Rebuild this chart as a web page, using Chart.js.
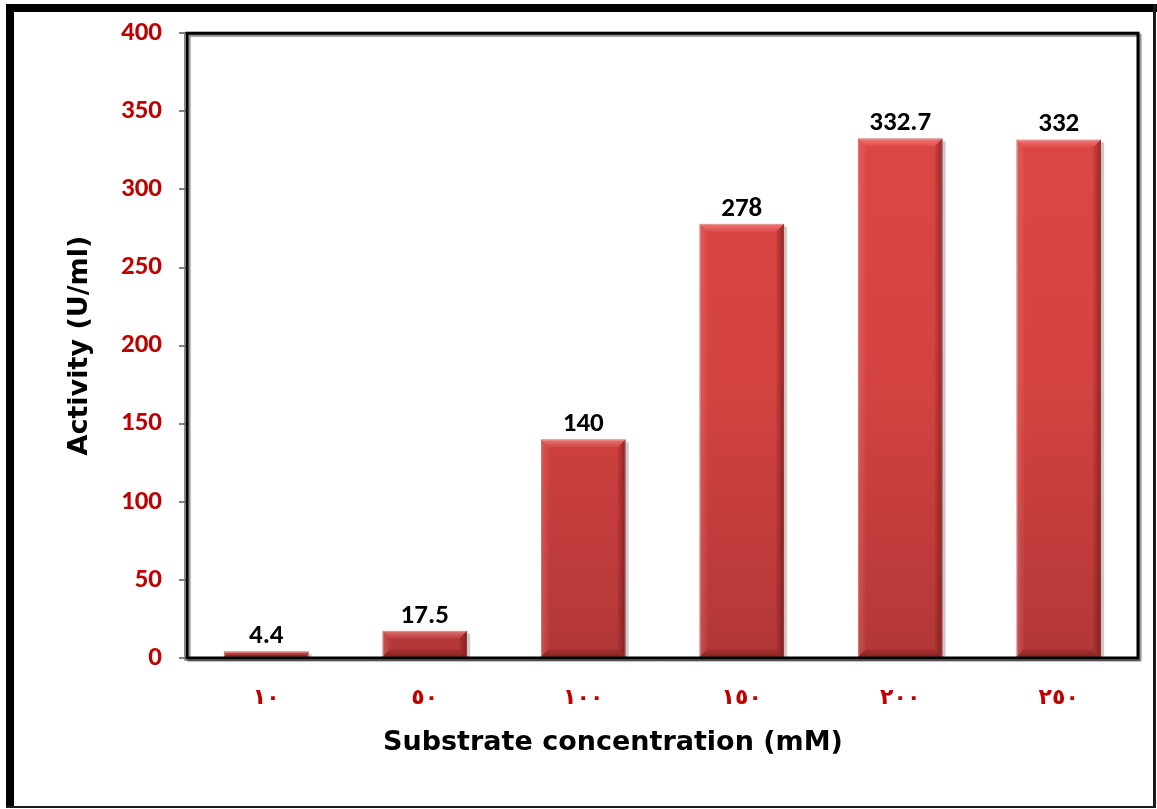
<!DOCTYPE html>
<html>
<head>
<meta charset="utf-8">
<script src="https://cdn.jsdelivr.net/npm/chart.js@4.4.1/dist/chart.umd.min.js"></script>
<style>
  html, body { margin: 0; padding: 0; background: #ffffff; }
  #wrap { width: 1157px; height: 809px; }
</style>
</head>
<body>
<div id="wrap"><canvas id="chart" width="1157" height="809"></canvas></div>
<script>
// Substrate concentrations (mM), written with Arabic-Indic digits
const categories = ['١٠', '٥٠', '١٠٠', '١٥٠', '٢٠٠', '٢٥٠'];
// Enzyme activity (U/ml) at each concentration
const activity = [4.4, 17.5, 140, 278, 332.7, 332];
// Y axis tick values
const yTickValues = [0, 50, 100, 150, 200, 250, 300, 350, 400];

const X_TITLE = 'Substrate concentration (mM)';
const Y_TITLE = 'Activity (U/ml)';

const NUM_FONT = "Carlito, Lato, sans-serif";
const TITLE_FONT = "'DejaVu Sans', Verdana, sans-serif";
const ARABIC_FONT = "'DejaVu Sans', sans-serif";

// Outer frame: heavy black on top/left, thin on right/bottom
const framePlugin = {
  id: 'frame',
  beforeDraw(chart) {
    const ctx = chart.ctx;
    const w = chart.width, h = chart.height;
    ctx.save();
    ctx.fillStyle = '#ffffff';
    ctx.fillRect(0, 0, w, h);
    ctx.fillStyle = '#000000';
    ctx.fillRect(6, 4, w - 6, 8);     // top
    ctx.fillRect(6, 4, 8, h - 6);     // left
    ctx.fillStyle = '#1a1a1a';
    ctx.fillRect(w - 4, 4, 3, h - 5); // right
    ctx.fillRect(6, h - 3, w - 7, 2); // bottom
    ctx.restore();
  },
  afterDraw(chart) {
    // x axis title, set a little left of the plot centre
    const ctx = chart.ctx;
    ctx.save();
    ctx.fillStyle = '#000000';
    ctx.font = 'bold 27px ' + TITLE_FONT;
    ctx.textAlign = 'center';
    ctx.textBaseline = 'middle';
    ctx.fillText(X_TITLE, 613, 743);
    ctx.restore();
  }
};

// Bevel shading on each bar, plot border with drop shadow, value labels
const decorPlugin = {
  id: 'decor',
  beforeDatasetsDraw(chart) {
    const ctx = chart.ctx;
    const meta = chart.getDatasetMeta(0);
    ctx.save();
    meta.data.forEach((bar) => {
      const p = bar.getProps(['x', 'y', 'base', 'width'], true);
      const r = p.x + p.width / 2;
      const h = p.base - p.y;
      ctx.fillStyle = 'rgba(60,0,0,0.22)';
      ctx.fillRect(r, p.y + 3, 3, h - 3);
    });
    ctx.restore();
  },
  afterDatasetsDraw(chart) {
    const ctx = chart.ctx;
    const meta = chart.getDatasetMeta(0);
    const values = chart.data.datasets[0].data;
    ctx.save();
    meta.data.forEach((bar) => {
      const p = bar.getProps(['x', 'y', 'base', 'width'], true);
      const l = p.x - p.width / 2, r = p.x + p.width / 2;
      const t = p.y, btm = p.base;
      const b = Math.min(8, (btm - t) / 2, p.width / 2);

      // top facet (light)
      let g = ctx.createLinearGradient(0, t, 0, t + b);
      g.addColorStop(0, 'rgba(255,175,175,0.55)');
      g.addColorStop(1, 'rgba(255,130,130,0.12)');
      ctx.fillStyle = g;
      ctx.beginPath();
      ctx.moveTo(l, t); ctx.lineTo(r, t); ctx.lineTo(r - b, t + b); ctx.lineTo(l + b, t + b);
      ctx.closePath(); ctx.fill();

      // left facet (slightly light)
      g = ctx.createLinearGradient(l, 0, l + b, 0);
      g.addColorStop(0, 'rgba(255,150,150,0.28)');
      g.addColorStop(1, 'rgba(255,150,150,0.05)');
      ctx.fillStyle = g;
      ctx.beginPath();
      ctx.moveTo(l, t); ctx.lineTo(l + b, t + b); ctx.lineTo(l + b, btm - b); ctx.lineTo(l, btm);
      ctx.closePath(); ctx.fill();

      // right facet (dark)
      g = ctx.createLinearGradient(r - b, 0, r, 0);
      g.addColorStop(0, 'rgba(70,0,0,0.08)');
      g.addColorStop(1, 'rgba(70,0,0,0.45)');
      ctx.fillStyle = g;
      ctx.beginPath();
      ctx.moveTo(r, t); ctx.lineTo(r, btm); ctx.lineTo(r - b, btm - b); ctx.lineTo(r - b, t + b);
      ctx.closePath(); ctx.fill();

      // bottom facet (dark)
      g = ctx.createLinearGradient(0, btm - b, 0, btm);
      g.addColorStop(0, 'rgba(70,0,0,0.08)');
      g.addColorStop(1, 'rgba(70,0,0,0.4)');
      ctx.fillStyle = g;
      ctx.beginPath();
      ctx.moveTo(l, btm); ctx.lineTo(r, btm); ctx.lineTo(r - b, btm - b); ctx.lineTo(l + b, btm - b);
      ctx.closePath(); ctx.fill();
    });

    // plot area border with a soft grey drop shadow
    const a = chart.chartArea;
    ctx.strokeStyle = '#8a8a8a';
    ctx.lineWidth = 1;
    ctx.beginPath();
    ctx.moveTo(a.left - 2.5, a.top);
    ctx.lineTo(a.left - 2.5, a.bottom + 2.5);
    ctx.lineTo(a.right + 2, a.bottom + 2.5);
    ctx.stroke();
    ctx.save();
    ctx.shadowColor = 'rgba(0,0,0,0.45)';
    ctx.shadowOffsetX = 2;
    ctx.shadowOffsetY = 2;
    ctx.shadowBlur = 1;
    ctx.strokeStyle = '#000000';
    ctx.lineWidth = 3;
    ctx.strokeRect(a.left, a.top, a.right - a.left, a.bottom - a.top);
    ctx.restore();

    // value labels above each bar
    ctx.fillStyle = '#000000';
    ctx.font = 'bold 27px ' + NUM_FONT;
    ctx.textAlign = 'center';
    ctx.textBaseline = 'alphabetic';
    meta.data.forEach((bar, i) => {
      const p = bar.getProps(['x', 'y'], true);
      ctx.fillText(String(values[i]), p.x, p.y - 8);
    });
    ctx.restore();
  }
};

const ctx = document.getElementById('chart').getContext('2d');

function barFill(context) {
  const area = context.chart.chartArea;
  if (!area) return '#d24040';
  const g = context.chart.ctx.createLinearGradient(0, area.top, 0, area.bottom);
  g.addColorStop(0, '#de4846');
  g.addColorStop(0.55, '#d44341');
  g.addColorStop(1, '#b23737');
  return g;
}

new Chart(ctx, {
  type: 'bar',
  data: {
    labels: categories,
    datasets: [{
      data: activity,
      backgroundColor: barFill,
      borderColor: 'rgba(130,25,25,0.7)',
      borderWidth: 1,
      borderSkipped: false,
      categoryPercentage: 1,
      barPercentage: 0.535
    }]
  },
  options: {
    responsive: false,
    animation: false,
    devicePixelRatio: 1,
    layout: { padding: { top: 33, right: 19, left: 0, bottom: 0 } },
    plugins: {
      legend: { display: false },
      tooltip: { enabled: false }
    },
    scales: {
      x: {
        afterFit(scale) { scale.height = 151; },
        grid: { display: false, drawTicks: false },
        border: { display: false },
        ticks: {
          color: '#c00000',
          font: { family: ARABIC_FONT, size: 22, weight: 'bold' },
          padding: 27
        },
        title: { display: false }
      },
      y: {
        min: 0,
        max: 400,
        afterFit(scale) { scale.width = 187; },
        afterBuildTicks(scale) { scale.ticks = yTickValues.map(v => ({ value: v })); },
        grid: {
          drawOnChartArea: false,
          drawTicks: true,
          tickLength: 8,
          color: '#808080',
          lineWidth: 2
        },
        border: { display: false },
        ticks: {
          color: '#c00000',
          font: { family: NUM_FONT, size: 27, weight: 'bold' },
          padding: 17
        },
        title: {
          display: true,
          text: Y_TITLE,
          color: '#000000',
          font: { family: TITLE_FONT, size: 27, weight: 'bold' },
          padding: { top: 64, bottom: 0 }
        }
      }
    }
  },
  plugins: [framePlugin, decorPlugin]
});
</script>
</body>
</html>
